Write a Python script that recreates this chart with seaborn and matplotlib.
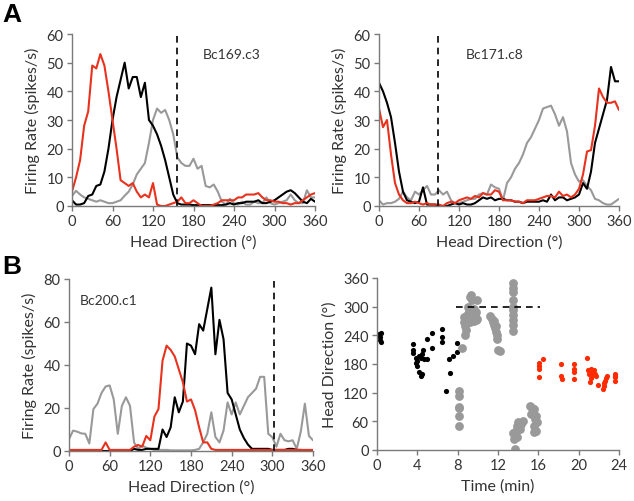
import numpy as np
import pandas as pd
import matplotlib
matplotlib.use("Agg")
import matplotlib.pyplot as plt
import seaborn as sns

# ---------------- data ----------------
angles = list(range(0, 361, 6))

# Panel A left: Bc169.c3
a1_black = [2, 0.5, 0.5, 1, 3.5, 4, 7, 7.5, 12, 20,
            30, 38, 44, 50, 41, 45, 45, 38, 43, 30,
            28, 25, 21, 16, 10, 4, 1, 0.5, 0.5, 0.5,
            0.3, 0.3, 0.3, 0.3, 0.3, 0.3, 0.3, 0.3, 0.5, 1,
            0.5, 1, 1, 1.5, 1.5, 1.5, 2, 1, 1, 1.5,
            2, 3, 4, 5, 5.5, 4.5, 3, 1.5, 1, 2.5,
            1.5]
a1_red = [5, 10, 16, 28, 33, 49, 48, 53, 49, 40,
          30, 20, 9, 8, 7, 8, 5, 3, 4, 3,
          8, 0.5, 0, 0, 0.5, 1, 1.5, 3, 1, 1,
          2, 1, 0, 0, 0, 0.5, 1, 2, 2, 2,
          2, 3, 3, 4, 4, 4, 4.5, 3, 2, 2,
          1.5, 1.5, 1, 1, 0.5, 1, 1, 2, 3, 4,
          4.5]
a1_gray = [3.5, 5.3, 4, 3, 2.5, 2, 1.5, 2, 1.5, 1,
           1, 1.5, 2, 3.6, 5, 7.5, 11, 13, 15, 22,
           30, 34, 32.5, 33.5, 30, 25, 17, 15, 14, 14,
           16.5, 13, 14, 7, 6.5, 7.5, 5, 1.5, 0.5, 2.5,
           1, 0.5, 1.5, 0.5, 0.5, 1.5, 1, 1, 3, 1,
           0.5, 1, 1.5, 2, 4, 2, 1, 1, 5.5, 3,
           3]

# Panel A right: Bc171.c8
a2_black = [43, 40, 36, 31, 22, 12, 5, 2, 1.5, 1,
            1.5, 6.5, 0.5, 0.5, 0.5, 0, 0, 0, 0.5, 1,
            0.5, 1, 0.5, 0.5, 1, 2, 3, 2.5, 3, 2,
            2.5, 2.5, 2, 2, 1.5, 1.5, 1, 1.5, 1.5, 1.5,
            1.5, 2, 1.5, 4, 2, 3, 3, 2, 2.5, 3,
            4, 8, 6, 12, 22, 27, 32, 37, 48.5, 43.5,
            43.5]
a2_red = [34, 27.5, 30, 18, 8, 4, 2, 1, 1, 1.5,
          1, 0.5, 1, 0.5, 0.5, 0.5, 0, 1, 1.5, 1,
          2, 2.5, 3, 2.5, 3.5, 3, 4.5, 4, 4, 5.5,
          5, 2, 2, 2, 1.5, 1.5, 1, 2, 2, 2,
          2.5, 3, 3.5, 3.5, 3, 5, 3.5, 4, 3, 4,
          6, 11, 19, 19.5, 28, 41, 38, 36, 36, 36.5,
          33.5]
a2_gray = [2, 0.5, 1, 1, 1.5, 2.5, 5, 3, 2, 5,
           4, 5.5, 7, 4, 4, 5.5, 4, 5, 2, 1,
           1, 1.5, 2, 2.5, 2.5, 4, 4.5, 4, 7.5, 6.5,
           6, 2, 8, 10, 13, 15, 18, 22, 24, 27,
           30, 34, 34.5, 35, 32, 28, 31, 26, 15, 11,
           8.5, 9, 7, 5.5, 2.5, 2, 1, 0.5, 0.5, 1.5,
           2.5]

# Panel B left: Bc200.c1
b1_black = [0, 0, 0, 0, 0, 0, 0, 0, 0, 0,
            0, 0, 0, 0, 0, 0, 1, 0.5, 0.5, 1,
            1, 1, 1, 10, 6.5, 11, 25, 18, 23, 50,
            49, 45, 59, 56, 66, 76, 45, 61, 52, 27,
            24, 17, 10, 6, 3, 1, 1, 1, 1, 1,
            0.5, 0.5, 0.5, 0.5, 1, 1, 0.5, 0.5, 0.3, 0.3,
            0.3]
b1_red = [0.5, 0.5, 0.5, 0.5, 0.5, 0.5, 0.5, 0.5, 0.5, 4,
          0.5, 0.5, 0.5, 0.5, 0.5, 0.5, 2, 2.8, 2, 7,
          5, 16, 19.5, 42, 49, 47, 44, 38, 32, 23,
          24, 19, 11, 4, 4, 1, 0.5, 0.5, 0.5, 0.5,
          0.5, 0.5, 0.5, 0.5, 0.5, 0.5, 0.5, 0.5, 0.5, 0.5,
          0.5, 0.5, 0.5, 0.5, 0.5, 0.5, 0.5, 0.5, 0.5, 0.5,
          0.5]
b1_gray = [5.5, 9.5, 9, 8.2, 8, 3.5, 19.5, 22, 27, 30,
           30.5, 24, 8, 21, 25, 21, 4, 1, 2.5, 1.5,
           1, 0.5, 0.5, 0.5, 0.5, 0.3, 0.3, 0.3, 0.3, 0.3,
           0.3, 0.5, 1, 4, 8, 18, 6.5, 4, 9.5, 22.6,
           17, 22.6, 17, 21, 25, 27, 29, 34.5, 34.5, 8,
           6.4, 2, 8, 5, 4.5, 5, 1, 9, 22, 7,
           5]

# Panel B right: head direction over time
black_t = [0.15, 0.2, 0.25, 0.3, 0.35, 0.4,
           3.6, 3.6, 3.6,
           3.9, 3.9, 3.95, 4.0, 4.2, 4.2, 4.35, 4.4, 4.5, 4.5, 4.6, 4.7,
           5.0, 5.0, 5.45, 5.45,
           6.4, 6.4, 6.4, 6.85, 7.15, 7.2, 7.55, 7.95, 7.95]
black_d = [238, 243, 230, 236, 245, 226,
           222, 210, 202,
           192, 183, 175, 186, 163, 197, 155, 192, 200, 160, 210, 190,
           232, 190, 245, 213,
           253, 236, 227, 124, 190, 162, 196, 205, 223]

gray_t = [8.1, 8.1, 8.1, 8.1, 8.1, 8.1,
          8.45, 8.7, 8.8, 8.6, 8.65, 8.75, 8.9,
          9.25, 9.3, 9.45, 9.9, 9.0, 9.1, 9.3, 9.5, 9.6, 9.7, 9.9, 9.2, 9.8, 9.6, 9.85,
          11.2, 11.4, 11.5, 11.6, 11.7, 11.8, 11.9, 11.95, 11.85, 11.6, 12.0, 12.15,
          13.5, 13.5, 13.5, 13.5, 13.5, 13.5, 13.5, 13.5, 13.5, 13.5,
          13.7, 13.6, 13.5, 13.75, 13.9, 14.0, 14.2, 14.5, 14.3, 13.85,
          15.2, 15.4, 15.6, 15.5, 15.3, 15.8, 15.7, 15.9, 15.6, 15.8, 15.6]
gray_d = [124, 112, 90, 88, 72, 50,
          213, 240, 252, 268, 278, 260, 283,
          320, 325, 313, 315, 300, 290, 285, 278, 270, 282, 275, 268, 272, 295, 288,
          280, 275, 268, 262, 255, 248, 240, 232, 260, 270, 210, 208,
          350, 340, 330, 315, 300, 292, 282, 272, 262, 250,
          2, 23, 35, 40, 50, 58, 45, 60, 55, 28,
          93, 88, 85, 80, 75, 72, 65, 58, 50, 40, 38]

red_t = [16.1, 16.1, 16.1, 16.1, 16.45,
         18.25, 18.25, 18.3,
         19.5, 19.5, 19.5, 19.5,
         20.85, 20.9, 21.0, 21.1, 21.2, 21.3, 21.4, 21.5, 21.6, 21.7, 21.15, 21.25, 21.9,
         22.4, 22.5, 22.6, 22.7, 22.8, 22.55,
         23.6, 23.6, 23.6, 23.65]
red_d = [176, 183, 170, 152, 190,
         180, 155, 148,
         180, 170, 163, 148,
         192, 168, 160, 165, 170, 158, 162, 168, 160, 155, 143, 150, 136,
         128, 135, 145, 150, 155, 140,
         160, 152, 145, 155]

cell_labels = ["Bc169.c3", "Bc171.c8", "Bc200.c1"]
deg_ticks = [0, 60, 120, 180, 240, 300, 360]
time_ticks = [0, 4, 8, 12, 16, 20, 24]

# ---------------- style ----------------
sns.set_style("ticks")
plt.rcParams["font.family"] = ["Lato", "DejaVu Sans"]
TXT = "#333333"
SP = "#7a7a7a"
C_RED = "#e8321e"
C_GRAY = "#999999"
C_BLACK = "#000000"
palette = {"gray": C_GRAY, "black": C_BLACK, "red": C_RED}
order = ["gray", "black", "red"]

fig = plt.figure(figsize=(6.34, 5.02), dpi=100)
W, H = 634, 502


def add_ax(x0, y0, x1, y1):
    return fig.add_axes([x0 / W, 1 - y1 / H, (x1 - x0) / W, (y1 - y0) / H])


def style(ax):
    sns.despine(ax=ax)
    for s in ("left", "bottom"):
        ax.spines[s].set_color(SP)
        ax.spines[s].set_linewidth(1.0)
    ax.tick_params(axis="both", colors=SP, labelcolor=TXT, labelsize=10.5,
                   length=3.5, width=1.0, pad=2.5, direction="out")


def tuning(ax, black, red, gray, ymax, yticks, dash_x, label, lx, ly):
    df = pd.DataFrame({
        "angle": angles * 3,
        "rate": gray + black + red,
        "series": ["gray"] * len(angles) + ["black"] * len(angles) + ["red"] * len(angles),
    })
    sns.lineplot(data=df, x="angle", y="rate", hue="series", hue_order=order,
                 palette=palette, legend=False, ax=ax, linewidth=1.5)
    ax.axvline(dash_x, color="black", linestyle=(0, (4, 3)), linewidth=1.2)
    ax.set_xlim(0, 360)
    ax.set_ylim(0, ymax)
    ax.set_xticks(deg_ticks)
    ax.set_yticks(yticks)
    ax.set_xlabel("Head Direction (°)", fontsize=11.5, color=TXT, labelpad=4)
    ax.set_ylabel("Firing Rate (spikes/s)", fontsize=11.5, color=TXT, labelpad=5)
    ax.text(lx, ly, label, fontsize=10, color=TXT, va="center", ha="left")
    style(ax)


ax1 = add_ax(72, 35, 315, 207)
tuning(ax1, a1_black, a1_red, a1_gray, 60, [0, 10, 20, 30, 40, 50, 60], 156,
       cell_labels[0], 194, 53)

ax2 = add_ax(379, 35, 619, 207)
tuning(ax2, a2_black, a2_red, a2_gray, 60, [0, 10, 20, 30, 40, 50, 60], 89,
       cell_labels[1], 130, 53)

ax3 = add_ax(69, 280, 313, 452)
tuning(ax3, b1_black, b1_red, b1_gray, 80, [0, 20, 40, 60, 80], 302,
       cell_labels[2], 16, 70)

ax4 = add_ax(377, 279, 619, 451)
sdf = pd.DataFrame({
    "t": black_t + gray_t + red_t,
    "d": black_d + gray_d + red_d,
    "g": ["black"] * len(black_t) + ["gray"] * len(gray_t) + ["red"] * len(red_t),
})
sns.scatterplot(data=sdf[sdf.g == "black"], x="t", y="d", color="black", s=14,
                linewidth=0, ax=ax4, legend=False)
sns.scatterplot(data=sdf[sdf.g == "gray"], x="t", y="d", color=C_GRAY, s=40,
                linewidth=0, ax=ax4, legend=False)
sns.scatterplot(data=sdf[sdf.g == "red"], x="t", y="d", color="#ff2a00", s=14,
                linewidth=0, ax=ax4, legend=False)
ax4.plot([7.8, 16.2], [300, 300], color="black", linestyle=(0, (4, 3)), linewidth=1.2)
ax4.set_xlim(0, 24)
ax4.set_ylim(0, 360)
ax4.set_xticks(time_ticks)
ax4.set_yticks(deg_ticks)
ax4.set_xlabel("Time (min)", fontsize=11.5, color=TXT, labelpad=4)
ax4.set_ylabel("Head Direction (°)", fontsize=11.5, color=TXT, labelpad=5)
style(ax4)

fig.text(0.004, 0.995, "A", fontsize=19, fontweight="bold", family="Liberation Sans",
         va="top", ha="left", color="black")
fig.text(0.004, 0.492, "B", fontsize=19, fontweight="bold", family="Liberation Sans",
         va="top", ha="left", color="black")

fig.savefig("out.png", dpi=100)
